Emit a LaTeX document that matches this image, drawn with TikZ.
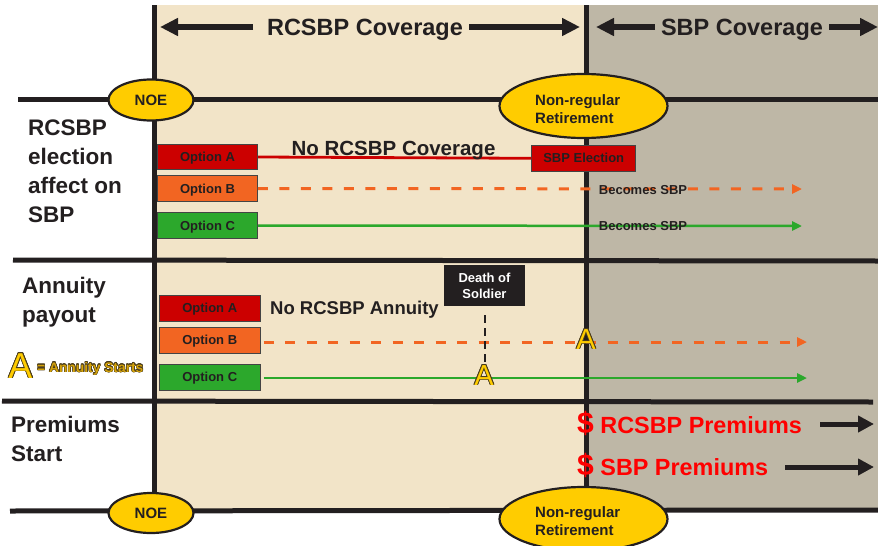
\documentclass[tikz,border=0pt]{standalone}
\usepackage{fontspec}
\setmainfont{Liberation Sans}
\usepackage{contour}
\usetikzlibrary{arrows.meta,shapes.geometric}
\definecolor{beigebg}{HTML}{F2E4C8}
\definecolor{graybg}{HTML}{BEB7A6}
\definecolor{ink}{HTML}{231F20}
\definecolor{yel}{HTML}{FFCC00}
\definecolor{redbox}{HTML}{CC0000}
\definecolor{orangebox}{HTML}{F26522}
\definecolor{greenbox}{HTML}{2CA82C}
\definecolor{boxline}{HTML}{444444}
\definecolor{premred}{HTML}{FF0000}
\definecolor{gold}{HTML}{D4A20A}
\definecolor{outl}{HTML}{4A3C1C}
\tikzset{
  blackline/.style={draw=ink, line width=5pt},
  toparrow/.style={draw=ink, line width=6pt, -{Triangle[length=18pt,width=17pt]}},
  premarrow/.style={draw=ink, line width=5pt, -{Triangle[length=16pt,width=16pt]}},
  biglab/.style={text=ink, inner sep=0pt, font=\bfseries\fontsize{22.5}{29}\selectfont},
  covlab/.style={text=ink, inner sep=0pt, anchor=base, font=\bfseries\fontsize{23.5}{28}\selectfont},
  optbox/.style={draw=boxline, line width=0.8pt, minimum width=100pt, minimum height=25.5pt,
    inner sep=0pt, text=ink, font=\bfseries\fontsize{13}{15}\selectfont, text height=9.3pt, text depth=0pt},
  smalltxt/.style={text=ink, inner sep=0pt, anchor=base, font=\bfseries\fontsize{13}{15}\selectfont},
  oval/.style={ellipse, draw=ink, line width=2.2pt, fill=yel, inner sep=0pt, text=ink,
    align=center, font=\bfseries\fontsize{15}{18}\selectfont},
  ovaltxt/.style={inner sep=0pt, text=ink, align=left, anchor=north west,
    font=\bfseries\fontsize{15}{18}\selectfont},
  reddraw/.style={draw=redbox, line width=2.8pt},
  orangedash/.style={draw=orangebox, line width=3pt, dash pattern=on 10pt off 11.5pt,
    -{Triangle[length=10pt,width=9pt]}},
  greenline/.style={draw=greenbox, line width=2.5pt, -{Triangle[length=10pt,width=9pt]}},
  deathdash/.style={draw=ink, line width=2pt, dash pattern=on 8pt off 5pt},
  amark/.style={inner sep=0pt, anchor=base, font=\fontsize{29}{30}\selectfont},
  premtxt/.style={text=premred, inner sep=0pt, anchor=base west, font=\bfseries\fontsize{23.4}{28}\selectfont}
}
\begin{document}
\begin{tikzpicture}[x=1pt,y=-1pt]
\useasboundingbox (0,0) rectangle (878,546);
% backgrounds
\fill[beigebg] (154,5) rectangle (586,511);
\fill[graybg] (586,5) rectangle (878,512);
% frame lines
\coordinate (h1l) at (18,99);  \coordinate (h1r) at (878,99);
\coordinate (h2l) at (13,260); \coordinate (h2r) at (878,261);
\coordinate (h3l) at (2,401);  \coordinate (h3r) at (873,402);
\coordinate (h4l) at (10,511); \coordinate (h4r) at (878,510);
\coordinate (v1t) at (154,5);  \coordinate (v1b) at (154,500);
\coordinate (v2t) at (586,5);  \coordinate (v2b) at (586,495);
\draw[blackline] (h1l) -- (h1r);
\draw[blackline] (h2l) -- (h2r);
\draw[blackline] (h3l) -- (h3r);
\draw[blackline] (h4l) -- (h4r);
\draw[blackline] (v1t) -- (v1b);
\draw[blackline] (v2t) -- (v2b);
% coverage headers
\node[covlab] (rcov) at (365,35) {RCSBP Coverage};
\node[covlab] (scov) at (742,35) {SBP Coverage};
\coordinate (a1s) at (253,27); \coordinate (a1e) at (160,27);
\coordinate (a2s) at (469,27); \coordinate (a2e) at (580,27);
\coordinate (a3s) at (655,27); \coordinate (a3e) at (596,27);
\coordinate (a4s) at (829,27); \coordinate (a4e) at (878,27);
\draw[toparrow] (a1s) -- (a1e);
\draw[toparrow] (a2s) -- (a2e);
\draw[toparrow] (a3s) -- (a3e);
\draw[toparrow] (a4s) -- (a4e);
% row labels
\node[biglab, anchor=north west, align=left] (lab1) at (28,120) {RCSBP\\election\\affect on\\SBP};
\node[biglab, anchor=north west, align=left] (lab2) at (22,277) {Annuity\\payout};
\node[biglab, anchor=north west, align=left] (lab3) at (11,416) {Premiums\\Start};
% row 1
\node[optbox, fill=redbox] (oa1) at (207.5,157) {Option A};
\node[optbox, fill=orangebox] (ob1) at (207.5,188.5) {Option B};
\node[optbox, fill=greenbox] (oc1) at (207.5,225.5) {Option C};
\node[optbox, fill=redbox, minimum width=104pt, minimum height=26.5pt] (sbpe) at (583.7,158.3) {SBP Election};
\coordinate (ob1e) at (802,189);
\coordinate (oc1e) at (802,226);
\draw[reddraw] (oa1.east) -- (sbpe.west);
\draw[orangedash] (ob1.east) -- (ob1e);
\draw[greenline] (oc1.east) -- (oc1e);
\node[text=ink, inner sep=0pt, anchor=base, font=\bfseries\fontsize{20.5}{24}\selectfont] (norc) at (393.5,155) {No RCSBP Coverage};
\node[smalltxt] (bec1) at (643,194) {Becomes SBP};
\node[smalltxt] (bec2) at (643,230) {Becomes SBP};
% row 2
\node[optbox, fill=redbox, minimum width=101pt, minimum height=26pt] (oa2) at (209.7,308) {Option A};
\node[optbox, fill=orangebox, minimum width=101pt, minimum height=26pt] (ob2) at (209.7,340) {Option B};
\node[optbox, fill=greenbox, minimum width=101pt, minimum height=26pt] (oc2) at (209.7,377) {Option C};
\node[text=ink, inner sep=0pt, anchor=base west, font=\bfseries\fontsize{18.5}{22}\selectfont] (noann) at (270,314) {No RCSBP Annuity};
\coordinate (ob2e) at (807,342);
\coordinate (oc2e) at (807,378);
\draw[orangedash, shorten <=3pt] (ob2.east |- ob2e) -- (ob2e);
\draw[greenline, shorten <=3pt] (oc2.east |- oc2e) -- (oc2e);
\node[fill=ink, minimum width=81pt, minimum height=41pt, inner sep=0pt, text=white, align=center,
  font=\bfseries\fontsize{13}{16}\selectfont] (dos) at (484.5,285.5) {Death of\\Soldier};
\coordinate (dd2) at (484.5,364);
\draw[deathdash, shorten <=9pt] (dos.south) -- (dd2);
\contourlength{0.8pt}
\node[amark] (am1) at (586,349) {\contour{outl}{\textcolor{yel}{A}}};
\node[amark] (am2) at (484,385) {\contour{outl}{\textcolor{yel}{A}}};
% legend
\node[inner sep=0pt, anchor=base, font=\fontsize{36}{36}\selectfont] (biga) at (20.5,378) {\contour{outl}{\textcolor{yel}{A}}};
\node[inner sep=0pt, anchor=base west, font=\bfseries\fontsize{13.8}{15}\selectfont] (legtxt) at (37,372) {\contourlength{0.45pt}\contour{outl}{\textcolor{gold}{= Annuity Starts}}};
% premiums
\node[premtxt] (prem1) at (577,433) {{\fontsize{30}{30}\selectfont\$} RCSBP Premiums};
\node[premtxt] (prem2) at (577,475) {{\fontsize{30}{30}\selectfont\$} SBP Premiums};
\coordinate (p1s) at (820,424); \coordinate (p1e) at (874,424);
\coordinate (p2s) at (785,467); \coordinate (p2e) at (874,467);
\draw[premarrow] (p1s) -- (p1e);
\draw[premarrow] (p2s) -- (p2e);
% ovals
\node[oval, minimum width=85pt, minimum height=41pt] (noe1) at (151,100) {NOE};
\node[oval, minimum width=85pt, minimum height=40pt] (noe2) at (151,513) {NOE};
\node[oval, minimum width=168pt, minimum height=64pt] (nrr1) at (583.5,106) {};
\node[oval, minimum width=168pt, minimum height=64pt] (nrr2) at (583.5,519) {};
\node[ovaltxt] (nrr1t) at (535,94.5) {Non-regular\\Retirement};
\node[ovaltxt] (nrr2t) at (535,506.5) {Non-regular\\Retirement};
\end{tikzpicture}
\end{document}
